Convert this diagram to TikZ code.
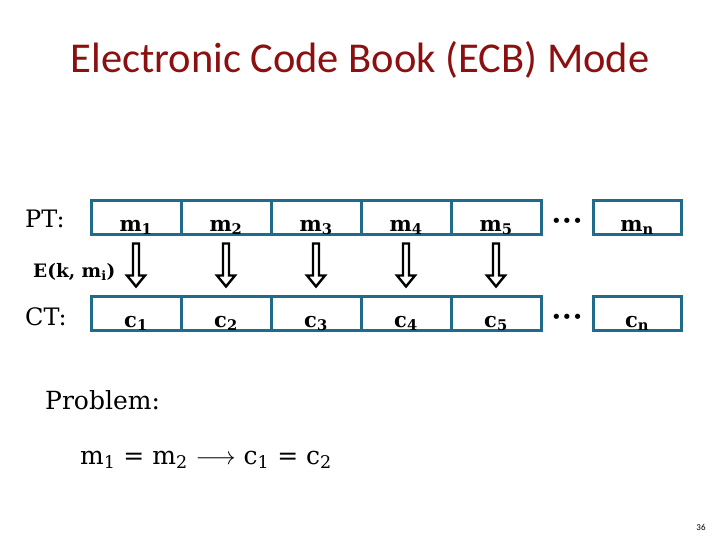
\documentclass[tikz,border=0pt]{standalone}
\usepackage{fontspec}
\setmainfont{DejaVu Serif}
\newfontfamily\titlefont{Carlito}
\usetikzlibrary{positioning,calc}
\definecolor{ecbred}{RGB}{140,16,16}
\definecolor{ecbblue}{RGB}{32,107,140}
\begin{document}
\begin{tikzpicture}[x=1pt,y=-1pt,
	cell/.style={draw=ecbblue,line width=3pt,outer sep=0pt,inner sep=0pt,minimum width=90pt,minimum height=34pt,text height=27pt,text depth=0pt,font=\fontsize{21}{21}\selectfont\bfseries},
	encarrow/.style={draw=black,line width=2.4pt,line join=miter},
	dots/.style={inner sep=0pt,yshift=-5pt,font=\fontsize{18}{18}\selectfont},
	tag/.style={anchor=base west,inner sep=0pt,font=\fontsize{24}{24}\selectfont}]
	\useasboundingbox(0,0)rectangle(720,540);
	\node[font=\titlefont\fontsize{42.5}{42.5}\selectfont,text=ecbred,anchor=base](title)at(360,73){Electronic Code Book (ECB) Mode};
	% plaintext and ciphertext blocks
	\node[cell](m1)at(136,217.5){m\textsubscript{1}};
	\node[cell](c1)at(136,313.5){c\textsubscript{1}};
	\foreach \i[count=\j] in {2,...,5}{
		\node[cell,right=0pt of m\j](m\i){m\textsubscript{\i}};
		\node[cell,right=0pt of c\j](c\i){c\textsubscript{\i}};
	}
	\node[cell,right=52pt of m5,minimum width=88pt](mn){m\textsubscript{n}};
	\node[cell,right=52pt of c5,minimum width=88pt](cn){c\textsubscript{n}};
	\node[dots](mdots)at($(m5.east)!.5!(mn.west)$){•••};
	\node[dots](cdots)at($(c5.east)!.5!(cn.west)$){•••};
	% hollow arrows E(k,m_i)
	\foreach \i in {1,...,5}
		\draw[encarrow]($(m\i.south)+(-3,9)$)--++(6,0)--++(0,32)--++(6,0)--++(-9,11)--++(-9,-11)--++(6,0)--cycle;
	\node[tag](pt)at(25,227){PT:};
	\node[tag](ct)at(25,325){CT:};
	\node[tag,font=\fontsize{18.5}{18.5}\selectfont\bfseries](ek)at(33,277){E(k, m\textsubscript{i})};
	\node[tag,font=\fontsize{25}{25}\selectfont](problem)at(45,409){Problem:};
	\node[tag,font=\fontsize{25}{25}\selectfont](eq)at(80,464){m\textsubscript{1} = m\textsubscript{2} $\longrightarrow$ c\textsubscript{1} = c\textsubscript{2}};
	\node[font=\titlefont\fontsize{9}{9}\selectfont,anchor=base](page)at(701,530){36};
\end{tikzpicture}
\end{document}
